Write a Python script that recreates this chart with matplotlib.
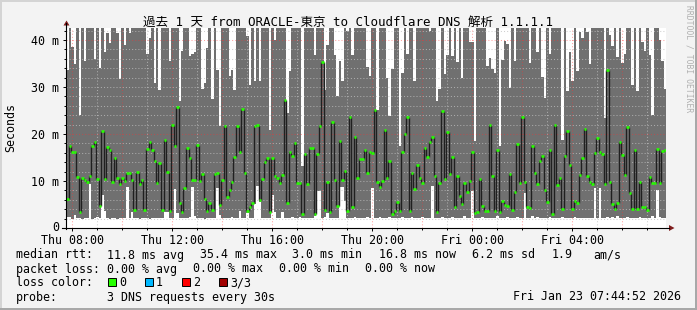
import numpy as np
import matplotlib
matplotlib.use("Agg")
import matplotlib.pyplot as plt
import matplotlib.transforms as mtransforms
from matplotlib.patches import Rectangle, Polygon
from matplotlib.lines import Line2D

#------------------------------------------------------------------------------
# Data (one value per 6 minute step, in ms)
#------------------------------------------------------------------------------
t_start = 7 + 44/60 + 52/3600   # hours after Thu 00:00
step = 0.1                      # hours per column

median = [
    6.2, 17.4, 16.2, 16.2, 10.9, 3.5, 10.6, 10.3, 9.8, 11.1,
    17.5, 18.3, 10.4, 4.7, 20.6, 10.5, 17.3, 16.5, 9.8, 15.0,
    10.6, 9.4, 10.6, 10.1, 11.6, 11.8, 10.2, 3.8, 11.9, 9.4,
    10.2, 3.8, 16.9, 18.3, 16.6, 14.2, 9.6, 13.8, 3.8, 18.7,
    11.9, 3.7, 21.9, 17.5, 25.7, 5.4, 3.5, 8.5, 17.1, 14.9,
    10.2, 10.2, 17.7, 10.1, 11.5, 6.2, 3.7, 5.4, 3.8, 11.5,
    11.6, 5.0, 10.2, 21.7, 6.7, 8.1, 9.8, 15.2, 21.7, 16.2,
    25.4, 11.6, 3.7, 4.5, 5.4, 21.6, 21.9, 6.0, 10.5, 14.0,
    14.8, 3.3, 14.8, 11.1, 10.6, 9.6, 11.3, 27.2, 5.4, 16.2,
    15.3, 18.1, 9.6, 9.6, 3.0, 15.7, 9.4, 17.0, 17.0, 3.0,
    15.7, 21.7, 35.3, 3.8, 9.8, 3.5, 22.6, 10.2, 4.7, 18.5,
    10.2, 12.2, 3.7, 23.7, 4.5, 19.4, 10.6, 14.7, 14.7, 16.5,
    11.7, 16.2, 16.0, 25.2, 9.8, 8.8, 10.1, 20.9, 10.6, 14.3,
    3.0, 3.7, 5.5, 3.7, 16.2, 19.9, 23.7, 3.7, 11.7, 8.2,
    13.5, 10.6, 9.6, 17.0, 15.2, 18.3, 19.4, 11.1, 3.3, 9.5,
    25.0, 10.5, 20.4, 11.5, 15.2, 4.5, 11.1, 6.9, 5.2, 9.6,
    7.7, 10.0, 16.2, 3.1, 3.5, 10.5, 4.7, 3.7, 3.7, 22.0,
    11.1, 3.7, 16.6, 3.5, 5.7, 5.0, 4.7, 11.5, 3.9, 7.7,
    17.9, 9.5, 23.7, 9.8, 4.5, 4.3, 17.5, 11.6, 9.4, 14.3,
    15.4, 8.1, 5.6, 16.7, 3.0, 22.0, 9.2, 10.6, 4.0, 15.4,
    20.7, 13.5, 4.0, 5.8, 5.4, 11.3, 14.9, 21.1, 11.1, 9.8,
    9.4, 16.0, 19.1, 16.2, 15.7, 9.4, 33.6, 9.8, 5.2, 4.1,
    5.4, 18.3, 15.6, 11.3, 21.5, 7.5, 4.0, 16.6, 4.0, 9.8,
    4.5, 4.5, 3.8, 10.8, 9.6, 9.6, 16.8, 9.6, 16.4, 16.5,
]

# slowest ping per step (45 = above the top of the graph)
ping_max = [
    33.7, 45, 38.6, 34.8, 45, 24.1, 45, 35.6, 45, 45,
    45, 36.0, 45, 34.0, 45, 37.4, 41.5, 39.4, 45, 45,
    41.5, 31.8, 45, 38.9, 45, 41.5, 45, 45, 45, 45,
    45, 45, 37.1, 40.4, 45, 30.9, 45, 29.4, 45, 45,
    45, 35.5, 45, 45, 45, 27.0, 37.6, 45, 45, 36.5,
    37.0, 37.5, 45, 45, 29.6, 30.9, 38.3, 45, 27.5, 45,
    33.7, 21.6, 45, 45, 45, 32.3, 33.7, 29.3, 45, 45,
    45, 45, 40.8, 30.5, 45, 31.2, 45, 31.2, 45, 45,
    45, 20.9, 45, 40.0, 45, 45, 45, 45, 24.5, 33.3,
    45, 45, 45, 45, 13.1, 45, 45, 45, 45, 36.9,
    45, 45, 45, 29.4, 38.9, 45, 45, 36.9, 28.0, 35.5,
    31.2, 45, 42.0, 45, 36.9, 45, 45, 45, 45, 45,
    34.2, 32.3, 45, 45, 25.2, 45, 45, 45, 31.9, 23.8,
    33.9, 45, 45, 17.4, 33.0, 45, 37.0, 45, 45, 31.2,
    45, 45, 45, 45, 45, 42.0, 45, 45, 27.1, 29.6,
    45, 32.8, 36.9, 45, 36.5, 45, 35.3, 45, 31.9, 45,
    45, 39.6, 39.6, 18.6, 45, 45, 45, 45, 34.4, 36.2,
    33.9, 33.0, 45, 17.4, 35.8, 39.8, 39.1, 29.8, 45, 35.5,
    45, 45, 45, 45, 45, 35.2, 45, 45, 37.4, 45,
    32.1, 27.7, 45, 37.0, 45, 45, 45, 45, 18.8, 45,
    29.2, 37.4, 31.3, 45, 33.3, 41.8, 40.4, 45, 41.6, 34.9,
    45, 45, 45, 45, 45, 23.3, 45, 41.0, 38.7, 45,
    36.3, 45, 35.2, 37.0, 45, 45, 30.5, 45, 29.1, 45,
    39.6, 37.6, 45, 36.9, 24.1, 45, 45, 40.1, 35.6, 29.6,
]

# fastest ping per step
ping_min = [
    2.3, 2.3, 2.0, 2.8, 2.1, 2.1, 2.0, 2.1, 2.1, 9.4,
    2.0, 2.1, 2.4, 2.1, 7.1, 3.7, 2.1, 2.0, 2.1, 2.2,
    2.0, 2.1, 2.1, 2.1, 8.7, 2.1, 3.4, 2.1, 2.2, 2.0,
    2.1, 2.1, 2.2, 2.0, 2.1, 2.1, 2.2, 2.1, 2.1, 3.5,
    3.5, 2.1, 2.2, 8.3, 3.2, 2.1, 2.2, 2.1, 2.1, 2.3,
    8.7, 2.5, 2.1, 2.2, 2.1, 2.0, 2.1, 2.1, 2.2, 2.1,
    8.5, 2.8, 2.1, 2.2, 2.1, 2.1, 2.3, 2.2, 2.1, 3.7,
    2.1, 2.1, 3.2, 2.1, 2.2, 5.1, 8.9, 5.5, 2.2, 2.1,
    2.1, 2.2, 7.1, 3.3, 2.1, 2.1, 3.4, 2.2, 2.1, 2.1,
    2.3, 2.1, 2.1, 2.3, 2.1, 2.1, 2.2, 2.1, 2.1, 2.6,
    7.9, 7.9, 2.1, 2.4, 3.2, 2.1, 2.2, 2.1, 2.1, 8.7,
    8.7, 5.7, 2.2, 2.1, 2.1, 2.4, 2.1, 2.2, 2.1, 2.1,
    2.3, 2.1, 8.5, 2.2, 2.1, 2.4, 2.1, 2.2, 2.1, 2.3,
    2.1, 2.2, 2.1, 2.1, 2.3, 2.1, 2.2, 2.1, 2.4, 2.1,
    2.2, 2.1, 2.3, 2.1, 2.1, 2.2, 8.9, 2.1, 2.2, 2.1,
    2.3, 2.1, 2.2, 2.1, 2.4, 2.1, 2.1, 2.2, 2.1, 2.6,
    2.1, 2.2, 7.8, 2.1, 2.2, 2.1, 2.3, 2.1, 2.1, 2.2,
    2.1, 2.1, 2.6, 2.1, 2.2, 2.1, 2.3, 2.1, 2.2, 2.1,
    2.4, 2.1, 2.2, 7.4, 2.1, 2.2, 2.6, 2.1, 2.3, 2.1,
    2.2, 2.1, 2.1, 2.3, 2.1, 2.2, 2.1, 2.1, 2.4, 2.1,
    2.2, 2.1, 2.1, 2.3, 2.1, 2.2, 2.1, 2.1, 2.2, 2.1,
    2.1, 8.5, 2.2, 8.5, 2.1, 2.2, 2.4, 2.1, 2.3, 2.1,
    2.6, 2.1, 2.2, 2.1, 2.3, 2.1, 2.2, 2.1, 2.1, 2.4,
    2.1, 2.2, 2.1, 2.1, 2.6, 2.1, 8.1, 2.3, 2.2, 2.1,
]

hour_ticks = [8, 12, 16, 20, 24, 28]
hour_labels = ['Thu 08:00', 'Thu 12:00', 'Thu 16:00', 'Thu 20:00', 'Fri 00:00', 'Fri 04:00']
ms_ticks = [0, 10, 20, 30, 40]
ms_labels = ['0', '10 m', '20 m', '30 m', '40 m']

title = '過去 1 天 from ORACLE-東京 to Cloudflare DNS 解析 1.1.1.1'
rtt_fields = ['median rtt:', '11.8 ms avg', '35.4 ms max', '3.0 ms min',
              '16.8 ms now', '6.2 ms sd', '1.9', 'am/s']
loss_fields = ['packet loss:', '0.00 % avg', '0.00 % max', '0.00 % min', '0.00 % now']
loss_names = ['0', '1', '2', '3/3']
loss_colors = ['#26ff00', '#00b8ff', '#ff0000', '#a00000']
probe_text = '3 DNS requests every 30s'
stamp = 'Fri Jan 23 07:44:52 2026'

#------------------------------------------------------------------------------
# Plot
#------------------------------------------------------------------------------
plt.rcParams['font.family'] = ['DejaVu Sans Mono', 'Noto Sans CJK JP']
fs = 8.4

W, H = 697, 310
fig = plt.figure(figsize=(W/100, H/100), dpi=100, facecolor='#f3f3f3')

ax = fig.add_axes([66/W, 82/H, 600/W, 200/H])
ax.set_facecolor('white')
for s in ax.spines.values():
    s.set_visible(False)

n = len(median)
edges = t_start + step*np.arange(n + 1)
lo = np.append(ping_min, ping_min[-1])
hi = np.append(ping_max, ping_max[-1])
ax.fill_between(edges, lo, hi, step='post', color='#707070', linewidth=0, zorder=1)

# grid (rrdtool style, drawn over the smoke)
for h in range(8, 32):
    if h % 2 == 0:
        ax.axvline(h, color='#ff3030', alpha=0.45, lw=0.75, ls=(0, (1, 2)), zorder=2)
    else:
        ax.axvline(h, color='#c0c0c0', alpha=0.75, lw=0.75, ls=(0, (1, 2)), zorder=2)
for v in range(2, 43, 2):
    if v % 20 == 0:
        ax.axhline(v, color='#ff3030', alpha=0.45, lw=0.75, ls=(0, (1, 2)), zorder=2)
    else:
        ax.axhline(v, color='#c0c0c0', alpha=0.75, lw=0.75, ls=(0, (1, 2)), zorder=2)

# median: black risers + green level marks
ax.vlines(edges[1:n], median[:-1], median[1:], color='#202020', lw=1.0, zorder=3)
ax.hlines(median, edges[:-1], edges[1:], color=loss_colors[0], lw=1.9, zorder=4)

ax.set_xlim(t_start, t_start + 24)
ax.set_ylim(0, 200/4.7)
ax.set_xticks(hour_ticks, hour_labels)
ax.set_xticks(range(8, 32), minor=True)
ax.set_yticks(ms_ticks, ms_labels)
ax.set_yticks(range(2, 43, 2), minor=True)
ax.tick_params(axis='both', which='major', length=2.5, width=0.7, labelsize=fs, color='black')
ax.tick_params(axis='both', which='minor', length=1.5, width=0.7, color='black')
ax.tick_params(axis='y', which='major', pad=2.2)
ax.tick_params(axis='x', which='major', pad=2.0)

# lift the "0" label a touch so it clears the first time label
zero_lab = ax.get_yticklabels()[0]
zero_lab.set_transform(zero_lab.get_transform() +
                       mtransforms.ScaledTranslation(0, 2/100, fig.dpi_scale_trans))

# overlay in pixel coordinates for frame, texts and axis arrows
ov = fig.add_axes([0, 0, 1, 1])
ov.set_xlim(0, W)
ov.set_ylim(H, 0)
ov.axis('off')
ov.patch.set_alpha(0)

ov.add_patch(Rectangle((0, 0), W, 2, color='#d4d4d4', lw=0))
ov.add_patch(Rectangle((0, 0), 2, H, color='#d4d4d4', lw=0))
ov.add_patch(Rectangle((0, H - 2), W, 2, color='#a8a8a8', lw=0))
ov.add_patch(Rectangle((W - 2, 0), 2, H, color='#a8a8a8', lw=0))

ov.add_line(Line2D([66, 66], [229, 23], color='black', lw=0.8))
ov.add_line(Line2D([62, 669], [228, 228], color='black', lw=0.8))
ov.add_patch(Polygon([(63.5, 25.5), (69.5, 25.5), (66.5, 20.5)], closed=True, color='#7f1d1d', lw=0))
ov.add_patch(Polygon([(669, 225), (669, 231), (674.5, 228)], closed=True, color='#7f1d1d', lw=0))

ov.text(348, 26, title, fontsize=9, ha='center', va='baseline')
ov.text(10.5, 128, 'Seconds', fontsize=fs, rotation=90, ha='center', va='center')
ov.text(689, 5, 'RRDTOOL / TOBI OETIKER', fontsize=5.8, rotation=270,
        ha='center', va='top', color='#b0b0b0')

rtt_x = [16, 107, 200, 292, 379, 472, 552, 593]
for x, s in zip(rtt_x, rtt_fields):
    ov.text(x, 258.5, s, fontsize=fs, va='baseline')
loss_x = [16, 107, 193, 279, 365]
for x, s in zip(loss_x, loss_fields):
    ov.text(x, 272.5, s, fontsize=fs, va='baseline')

ov.text(16, 286.5, 'loss color:', fontsize=fs, va='baseline')
box_x = [108, 145, 182, 219]
for x, c, s in zip(box_x, loss_colors, loss_names):
    ov.add_patch(Rectangle((x, 277.5), 8, 8.5, facecolor=c, edgecolor='black', lw=0.7))
    ov.text(x + 11, 286.5, s, fontsize=fs, va='baseline')

ov.text(16, 300.5, 'probe:', fontsize=fs, va='baseline')
ov.text(107, 300.5, probe_text, fontsize=fs, va='baseline')
ov.text(513, 300.5, stamp, fontsize=fs, va='baseline')

plt.savefig('out.png', dpi=100, facecolor=fig.get_facecolor())
